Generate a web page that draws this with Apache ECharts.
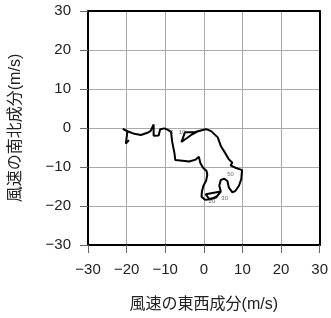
<!DOCTYPE html>
<html><head><meta charset="utf-8">
<script src="https://cdn.jsdelivr.net/npm/echarts@6/dist/echarts.min.js"></script>
<style>html,body{margin:0;padding:0;background:#fff}#c{width:331px;height:318px}</style>
</head><body><div id="c"></div>
<script>
// Hodograph: east-west (u) and north-south (v) wind components, m/s
var windU = [-19.4,-20.2,-19.8,-21.0,-19.6,-18.0,-16.3,-14.8,-13.8,-13.0,-13.0,-11.7,-11.3,-10.2,-9.3,-8.5,
  -8.2,-7.6,-7.4,-5.5,-3.8,-2.1,-1.3,-0.9,-0.2,0.7,0.9,0.6,-0.1,-0.5,-0.6,0.3,1.8,3.4,4.4,
  2.6,0.5,1.4,3.2,4.4,4.0,4.4,5.3,6.1,6.5,7.4,8.2,9.1,9.7,9.9,8.2,6.9,7.4,6.5,5.7,4.4,3.6,1.9,0.6,-0.3,
  -2.4,-4.9,-5.8,-3.0,-1.2];
var windV = [-3.1,-4.0,-0.9,-0.2,-0.9,-1.5,-1.8,-1.3,-0.8,0.9,-2.0,-1.9,-0.3,-0.1,-0.5,-1.0,
  -3.5,-6.5,-8.2,-8.4,-8.6,-8.1,-7.4,-9.0,-10.2,-11.0,-12.0,-13.5,-14.8,-16.3,-17.6,-18.4,-18.3,-17.5,-16.3,
  -16.6,-17.0,-18.2,-17.8,-16.3,-14.8,-13.3,-13.0,-13.6,-15.3,-16.5,-16.1,-14.8,-13.1,-10.8,-10.2,-9.6,-8.9,-8.05,-6.7,-4.6,-2.4,-0.8,-0.3,-0.5,
  -1.1,-1.1,-3.6,-1.6,-0.7];
var markText = ["5","10","20","30","50"];
var markU = [-8.3,-5.6,2.1,5.4,6.9];
var markV = [-1.0,-1.0,-18.9,-18.1,-12.0];
var ticks = [-30,-20,-10,0,10,20,30];

var pts = windU.map(function(u,i){return [u, windV[i]];});
var lab = markText.map(function(t,i){return {value:[markU[i],markV[i]], label:{formatter:t}};});
var fmt = function(v){return String(v).replace('-', '\u2212');};
var font = '"Liberation Sans", Arial, sans-serif';
var cjk = '"Liberation Sans", "Noto Sans CJK JP", sans-serif';
function mainAxis(pos, name, gap){
  return {type:'value', position:pos, min:ticks[0], max:ticks[ticks.length-1], interval:10,
    name:name, nameLocation:'middle', nameGap:gap,
    nameTextStyle:{fontFamily:cjk, fontSize:16, color:'#222'},
    axisLine:{show:true, onZero:false, lineStyle:{color:'#000', width:2}},
    axisTick:{show:true, inside:false, length:8, lineStyle:{color:'#666', width:1}},
    axisLabel:{formatter:fmt, fontFamily:font, fontSize:15, color:'#222', margin:17},
    splitLine:{show:true, showMinLine:false, showMaxLine:false, lineStyle:{color:'#aaa', width:1}}
  };
}
function frameAxis(pos){
  return {type:'value', position:pos, min:-30, max:30, interval:10,
    axisLine:{show:true, onZero:false, lineStyle:{color:'#000', width:2}},
    axisTick:{show:false}, axisLabel:{show:false}, splitLine:{show:false}};
}
var chart = echarts.init(document.getElementById('c'), null, {renderer:'canvas'});
chart.setOption({
  animation:false,
  grid:{left:85, right:10, top:11, bottom:71},
  xAxis:[mainAxis('bottom','風速の東西成分(m/s)',52), frameAxis('top')],
  yAxis:[mainAxis('left','風速の南北成分(m/s)',64), frameAxis('right')],
  series:[
    {type:'line', data:pts, showSymbol:false, smooth:false, z:3,
     lineStyle:{color:'#000', width:2}},
    {type:'scatter', data:lab, symbolSize:0, z:4,
     label:{show:true, position:'inside', fontFamily:font, fontSize:6, color:'#444'}}
  ]
});
</script></body></html>
